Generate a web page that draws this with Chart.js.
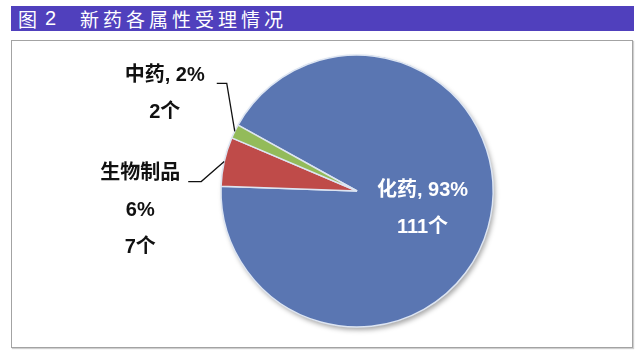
<!DOCTYPE html>
<html><head><meta charset="utf-8">
<script src="https://cdn.jsdelivr.net/npm/chart.js@4.4.0/dist/chart.umd.min.js"></script>
<style>
html,body{margin:0;padding:0;background:#fff;width:640px;height:357px;overflow:hidden;}
#title{position:absolute;left:11px;top:6px;width:623px;height:25px;background:#5040bd;color:#fff;font-family:"Noto Sans CJK SC",sans-serif;font-size:19px;line-height:25px;}
#title span{position:absolute;top:0;white-space:nowrap;}
#frame{position:absolute;left:11px;top:40px;width:620px;height:306px;border:1px solid #a3a3a3;box-shadow:1px 1px 1px #cfcfcf;background:#fff;}
#wrap{position:absolute;left:0;top:0;width:640px;height:357px;}
</style></head>
<body>
<div id="title"><span style="left:7px">图</span><span style="left:34px;font-family:'Liberation Sans',sans-serif;font-size:20px">2</span><span style="left:69px;letter-spacing:4px">新药各属性受理情况</span></div>
<div id="frame"></div>
<div id="wrap"><canvas id="c" width="640" height="357"></canvas></div>
<script>
// ---- data ----
const categories = ['化药', '生物制品', '中药'];
const counts = [111, 7, 2];
const unit = '个';
const colors = ['#5a76b2', '#bf4b49', '#93bb5a'];

const total = counts.reduce((a, b) => a + b, 0);
const percents = counts.map(v => Math.round(v / total * 100) + '%');

// label layout (style only)
const labelLayouts = [
  {inside: true, lines: i => [categories[i] + ', ' + percents[i], counts[i] + unit], color: '#ffffff'},
  {inside: false, lines: i => [categories[i], percents[i], counts[i] + unit], dx: -84, dy: 49, leader: [[-23, 20], [-36, 20]], color: '#111111'},
  {inside: false, lines: i => [categories[i] + ', ' + percents[i], counts[i] + unit], dx: -70, dy: -37, leader: [[-8, -48], [-18, -48]], color: '#111111'}
];

const pieDeco = {
  id: 'pieDeco',
  beforeDatasetsDraw(chart) {
    const arc = chart.getDatasetMeta(0).data[0];
    if (!arc) return;
    const ctx = chart.ctx;
    ctx.save();
    ctx.shadowColor = 'rgba(0,0,0,0.35)';
    ctx.shadowBlur = 5;
    ctx.shadowOffsetX = 2;
    ctx.shadowOffsetY = 3;
    ctx.beginPath();
    ctx.arc(arc.x, arc.y, arc.outerRadius, 0, Math.PI * 2);
    ctx.fillStyle = colors[0];
    ctx.fill();
    ctx.restore();
  },
  afterDatasetsDraw(chart) {
    const ctx = chart.ctx;
    const meta = chart.getDatasetMeta(0);
    meta.data.forEach((arc, i) => {
      const p = arc.getProps(['x', 'y', 'startAngle', 'endAngle', 'outerRadius'], true);
      const mid = (p.startAngle + p.endAngle) / 2;
      const L = labelLayouts[i];
      let cx, cy;
      ctx.save();
      if (L.inside) {
        cx = p.x + Math.cos(mid) * p.outerRadius * 0.5;
        cy = p.y + Math.sin(mid) * p.outerRadius * 0.5;
      } else {
        const ax = p.x + Math.cos(mid) * p.outerRadius;
        const ay = p.y + Math.sin(mid) * p.outerRadius;
        ctx.beginPath();
        ctx.moveTo(ax, ay);
        L.leader.forEach(q => ctx.lineTo(ax + q[0], ay + q[1]));
        ctx.strokeStyle = '#111';
        ctx.lineWidth = 1.3;
        ctx.stroke();
        cx = ax + L.dx;
        cy = ay + L.dy;
      }
      const lines = L.lines(i);
      const lh = 37;
      ctx.font = 'bold 20px "Liberation Sans", "Noto Sans CJK SC", sans-serif';
      ctx.fillStyle = L.color;
      ctx.textAlign = 'center';
      ctx.textBaseline = 'middle';
      const y0 = cy - (lines.length - 1) * lh / 2;
      lines.forEach((t, k) => ctx.fillText(t, cx, y0 + k * lh));
      ctx.restore();
    });
  }
};

new Chart(document.getElementById('c'), {
  type: 'pie',
  data: {
    labels: categories,
    datasets: [{
      data: counts,
      backgroundColor: colors,
      borderColor: '#dde5f2',
      borderWidth: 1.5,
      radius: 136
    }]
  },
  options: {
    responsive: false,
    animation: false,
    rotation: 299,
    layout: {padding: {left: 217, right: 143, top: 51, bottom: 26}},
    plugins: {legend: {display: false}, tooltip: {enabled: false}, title: {display: false}}
  },
  plugins: [pieDeco]
});
</script>
</body></html>
